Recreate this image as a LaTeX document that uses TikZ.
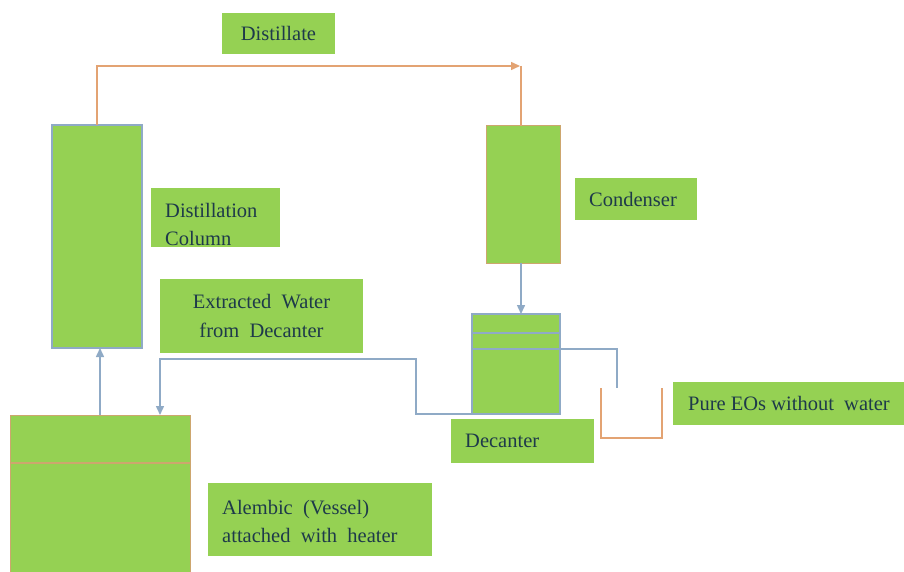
\documentclass[tikz,border=0pt]{standalone}
\usepackage{fontspec}
\setmainfont{LiberationSerif}[Extension=.ttf,UprightFont=*-Regular,BoldFont=*-Bold]
\usetikzlibrary{arrows.meta,calc}
\definecolor{gr}{HTML}{95D153}
\definecolor{bl}{HTML}{8FAAC6}
\definecolor{org}{HTML}{E3A373}
\definecolor{tan}{HTML}{CDA66E}
\definecolor{tx}{HTML}{1E3A4A}
\begin{document}
\begin{tikzpicture}[x=1pt,y=-1pt,
 vessel/.style={draw=bl,fill=gr,line width=1.5pt,anchor=north west,inner sep=0,outer sep=0},
 lbl/.style={fill=gr,anchor=north west,inner sep=0,outer sep=0},
 txt/.style={text=tx,font=\fontsize{20.5}{28.5}\selectfont,inner sep=0},
 bline/.style={draw=bl,line width=1.5pt},
 oline/.style={draw=org,line width=1.5pt},
 btip/.style={-{Triangle[length=9pt,width=8pt]}}
]
\clip (0,0) rectangle (904,572);
\fill[white] (0,0) rectangle (904,572);

% vessels
\node[vessel,minimum width=90pt,minimum height=223pt] (col) at (52,125) {};
\node[vessel,minimum width=74pt,minimum height=137pt,draw=tan,line width=1pt] (cond) at (486,126) {};
\node[vessel,minimum width=88pt,minimum height=100pt] (dec) at (472,314) {};
\node[vessel,minimum width=180pt,minimum height=165pt,draw=tan,line width=1pt] (alem) at (10,415) {};
\draw[bline] ($(dec.north west)+(0,19)$) -- ($(dec.north east)+(0,19)$);
\draw[bline] ($(dec.north west)+(0,35)$) -- ($(dec.north east)+(0,35)$);
\draw[draw=tan,line width=1.2pt] ($(alem.north west)+(0,48)$) -- ($(alem.north east)+(0,48)$);

% label boxes
\node[lbl,minimum width=113pt,minimum height=41pt] (distbox) at (222,13) {};
\node[txt] (disttxt) at (distbox.center) {Distillate};
\node[lbl,minimum width=129pt,minimum height=59pt] (colbox) at (151,188) {};
\node[txt,anchor=west,align=left] (coltxt) at ($(colbox.west)+(14,7)$) {Distillation\\Column};
\node[lbl,minimum width=203pt,minimum height=74pt] (waterbox) at (160,279) {};
\node[txt,align=center] (watertxt) at (waterbox.center) {Extracted\ \ Water\\from\ \ Decanter};
\node[lbl,minimum width=122pt,minimum height=42pt] (condbox) at (575,178) {};
\node[txt,anchor=west] (condtxt) at ($(condbox.west)+(14,0)$) {Condenser};
\node[lbl,minimum width=143pt,minimum height=44pt] (decbox) at (451,419) {};
\node[txt,anchor=west] (dectxt) at ($(decbox.west)+(14,0)$) {Decanter};
\node[lbl,minimum width=240pt,minimum height=43pt] (eobox) at (673,382) {};
\node[txt,anchor=west] (eotxt) at ($(eobox.west)+(15,0)$) {Pure EOs without\ \ water};
\node[lbl,minimum width=224pt,minimum height=73pt] (alembox) at (208,483) {};
\node[txt,anchor=west,align=left] (alemtxt) at ($(alembox.west)+(14,2)$) {Alembic\ \ (Vessel)\\attached\ \ with\ \ heater};

% connectors
\coordinate (ctop) at ($(cond.north)+(-2,-60)$);
\draw[oline,-{Triangle[length=9pt,width=8pt]}] (col.north) |- ($(ctop)+(-1,0)$);
\draw[oline] (ctop) -- ($(cond.north)+(-2,0)$);
\draw[bline,btip] ($(cond.south)+(-2,0)$) -- ($(dec.north)+(5,0)$);
\draw[bline,btip] ($(alem.north west)+(90,0)$) -- ($(col.south)+(3,0)$);
\coordinate (w1) at (416,359);
\coordinate (w2) at ($(alem.north west)+(150,0)$);
\draw[bline,btip] (dec.south west) -| (w1) -| (w2);
\coordinate (pipe) at (617,388);
\draw[bline] ($(dec.north east)+(0,35)$) -| (pipe);
\coordinate (cupl) at (601,388);
\coordinate (cupr) at (662,388);
\draw[oline] (cupl) -- ++(0,50) -| (cupr);
\end{tikzpicture}
\end{document}
